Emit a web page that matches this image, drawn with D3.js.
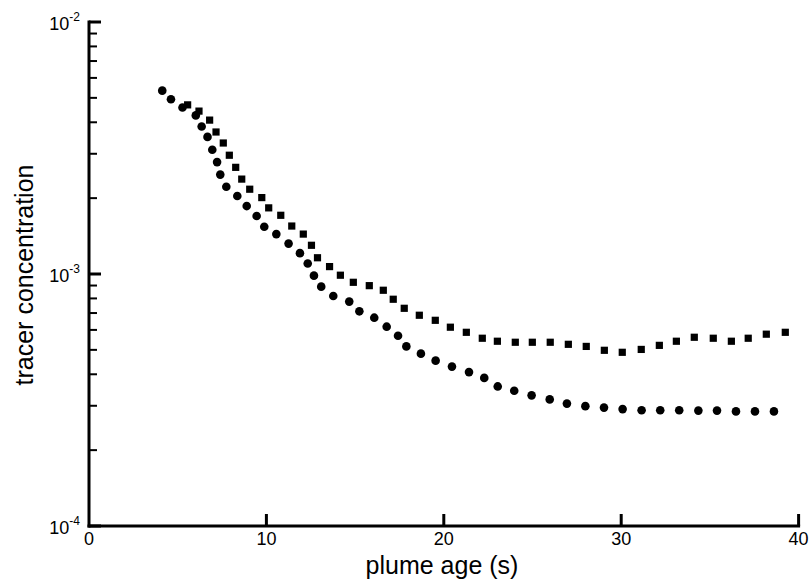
<!DOCTYPE html>
<html>
  <head>
    <title>Tracer concentration vs plume age</title>
    <script src="https://d3js.org/d3.v7.min.js"></script>
    <style>
      body { margin: 0; background: #fff; }
      text { font-family: Arial, "Liberation Sans", sans-serif; fill: #000; }
      .tick-label { font-size: 18px; }
      .axis-title { font-size: 25px; }
    </style>
  </head>
  <body>
    <svg width="810" height="581"></svg>

    <script>
      // circles (lower series)
      const ageA = [4.13, 4.62, 5.27, 6.02, 6.35, 6.68, 6.95, 7.22, 7.40, 7.74,
        8.36, 8.89, 9.45, 9.88, 10.56, 11.25, 11.89, 12.33, 12.68, 13.09,
        13.77, 14.67, 15.24, 16.08, 16.78, 17.42, 17.89, 18.71, 19.54, 20.46,
        21.42, 22.28, 23.04, 23.97, 24.95, 25.97, 26.94, 27.98, 29.03, 30.08,
        31.15, 32.20, 33.27, 34.35, 35.40, 36.47, 37.54, 38.61];
      const concA = [5.34e-3, 4.94e-3, 4.58e-3, 4.26e-3, 3.85e-3, 3.50e-3, 3.11e-3, 2.78e-3, 2.48e-3, 2.22e-3,
        2.04e-3, 1.86e-3, 1.70e-3, 1.54e-3, 1.44e-3, 1.32e-3, 1.21e-3, 1.10e-3, 9.85e-4, 8.91e-4,
        8.18e-4, 7.77e-4, 7.11e-4, 6.71e-4, 6.18e-4, 5.69e-4, 5.16e-4, 4.83e-4, 4.53e-4, 4.29e-4,
        4.08e-4, 3.87e-4, 3.58e-4, 3.44e-4, 3.30e-4, 3.18e-4, 3.06e-4, 2.99e-4, 2.95e-4, 2.91e-4,
        2.88e-4, 2.88e-4, 2.88e-4, 2.87e-4, 2.87e-4, 2.85e-4, 2.85e-4, 2.85e-4];

      // squares (upper series)
      const ageB = [5.56, 6.20, 6.80, 7.16, 7.57, 7.91, 8.27, 8.61, 9.06, 9.74,
        10.13, 10.81, 11.43, 12.08, 12.54, 12.88, 13.56, 14.17, 14.90, 15.80,
        16.59, 17.15, 17.77, 18.62, 19.52, 20.37, 21.27, 22.17, 23.02, 24.03,
        24.99, 26.00, 27.02, 28.03, 29.05, 30.06, 31.13, 32.15, 33.11, 34.12,
        35.19, 36.21, 37.16, 38.18, 39.25];
      const concB = [4.69e-3, 4.43e-3, 4.08e-3, 3.66e-3, 3.31e-3, 2.96e-3, 2.65e-3, 2.38e-3, 2.17e-3, 2.01e-3,
        1.83e-3, 1.71e-3, 1.55e-3, 1.44e-3, 1.30e-3, 1.16e-3, 1.07e-3, 9.89e-4, 9.27e-4, 8.99e-4,
        8.62e-4, 7.94e-4, 7.31e-4, 6.86e-4, 6.55e-4, 6.15e-4, 5.87e-4, 5.56e-4, 5.41e-4, 5.36e-4,
        5.36e-4, 5.36e-4, 5.26e-4, 5.16e-4, 4.98e-4, 4.89e-4, 5.02e-4, 5.21e-4, 5.41e-4, 5.61e-4,
        5.56e-4, 5.41e-4, 5.56e-4, 5.77e-4, 5.87e-4];

      const xTicks = [0, 10, 20, 30, 40];
      const yDecades = [-4, -3, -2];

      const svg = d3.select("svg");
      const mLeft = 89, mRight = 798.6, mTop = 22, mBottom = 526;

      const x = d3.scaleLinear().domain([0, 40]).range([mLeft, mRight]);
      const y = d3.scaleLog().domain([1e-4, 1e-2]).range([mBottom, mTop]);

      const ptsA = ageA.map((d, i) => [d, concA[i]]);
      const ptsB = ageB.map((d, i) => [d, concB[i]]);

      // squares first, circles on top
      svg.append("g").selectAll("rect")
        .data(ptsB)
        .join("rect")
          .attr("x", d => x(d[0]) - 3.6)
          .attr("y", d => y(d[1]) - 3.6)
          .attr("width", 7.2)
          .attr("height", 7.2)
          .attr("fill", "#000");

      svg.append("g").selectAll("circle")
        .data(ptsA)
        .join("circle")
          .attr("cx", d => x(d[0]))
          .attr("cy", d => y(d[1]))
          .attr("r", 4.3)
          .attr("fill", "#000");

      // axes drawn by hand to get inward ticks and superscript labels
      const ax = svg.append("g").attr("stroke", "#000").attr("stroke-width", 3);
      ax.append("line").attr("x1", mLeft).attr("x2", mLeft).attr("y1", mTop - 1.5).attr("y2", mBottom + 1.5);
      ax.append("line").attr("x1", mLeft - 1.5).attr("x2", mRight + 1.5).attr("y1", mBottom).attr("y2", mBottom);

      ax.selectAll(".xt")
        .data(xTicks.filter(d => d > 0))
        .join("line")
          .attr("x1", d => x(d)).attr("x2", d => x(d))
          .attr("y1", mBottom).attr("y2", mBottom - 12);

      const minor = [];
      yDecades.slice(0, -1).forEach(e => {
        for (let m = 2; m <= 9; m++) minor.push(m * Math.pow(10, e));
      });
      ax.selectAll(".ymin")
        .data(minor)
        .join("line")
          .attr("stroke-width", 2)
          .attr("x1", mLeft).attr("x2", mLeft + 8)
          .attr("y1", d => y(d)).attr("y2", d => y(d));
      ax.selectAll(".ymaj")
        .data(yDecades.map(e => Math.pow(10, e)))
        .join("line")
          .attr("x1", mLeft).attr("x2", mLeft + 12)
          .attr("y1", d => y(d)).attr("y2", d => y(d));

      svg.selectAll(".xl")
        .data(xTicks)
        .join("text")
          .attr("class", "tick-label")
          .attr("x", d => x(d))
          .attr("y", mBottom + 19)
          .attr("text-anchor", "middle")
          .text(d => d);

      const yl = svg.selectAll(".yl")
        .data(yDecades)
        .join("text")
          .attr("class", "tick-label")
          .attr("x", 80)
          .attr("y", d => y(Math.pow(10, d)) + 8)
          .attr("text-anchor", "end");
      yl.append("tspan").text("10");
      yl.append("tspan")
        .attr("dy", -9)
        .attr("font-size", 12)
        .text(d => "-" + Math.abs(d));

      svg.append("text")
        .attr("class", "axis-title")
        .attr("x", 442)
        .attr("y", 574)
        .attr("text-anchor", "middle")
        .text("plume age (s)");

      svg.append("text")
        .attr("class", "axis-title")
        .attr("transform", "translate(33, 275) rotate(-90)")
        .attr("text-anchor", "middle")
        .text("tracer concentration");
    </script>
  </body>
</html>
